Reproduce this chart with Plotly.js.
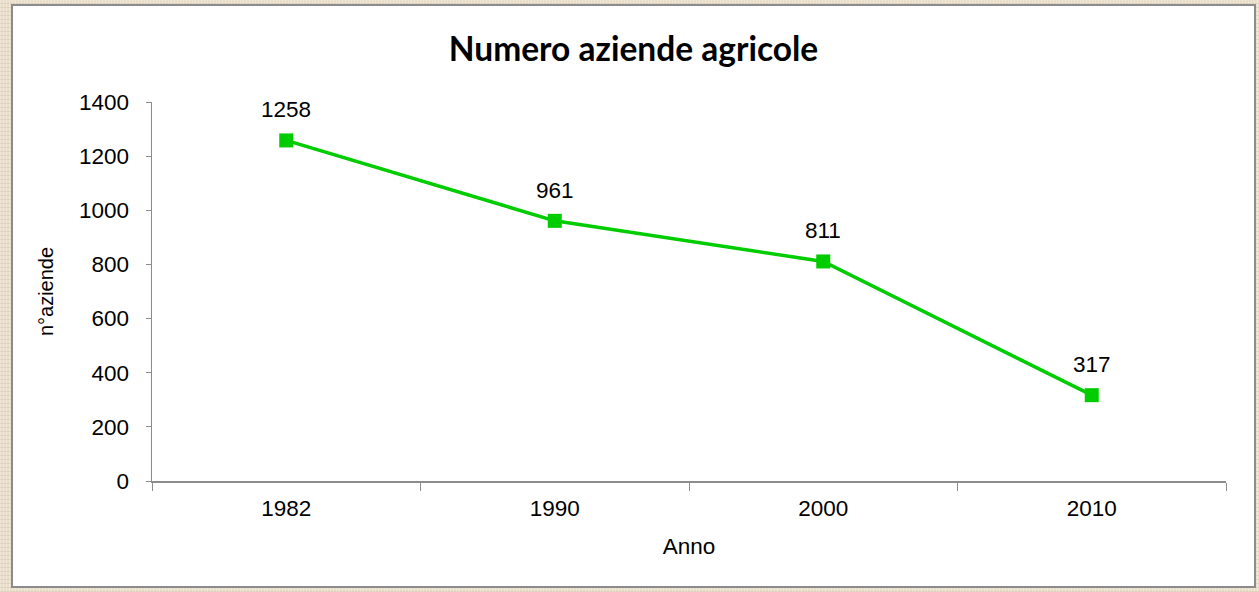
<!DOCTYPE html>
<html>
<head>
<meta charset="utf-8">
<script src="https://cdn.plot.ly/plotly-3.0.1.min.js"></script>
<style>
  html, body { margin: 0; padding: 0; width: 1259px; height: 592px; overflow: hidden; }
  body {
    background-color: #e9dfca;
    background-image:
      repeating-linear-gradient(90deg, rgba(255,255,255,0.25) 0px, rgba(255,255,255,0.25) 1px, rgba(0,0,0,0) 1px, rgba(0,0,0,0) 3px),
      repeating-linear-gradient(0deg, rgba(160,140,110,0.18) 0px, rgba(160,140,110,0.18) 1px, rgba(0,0,0,0) 1px, rgba(0,0,0,0) 4px);
  }
  #frame {
    position: absolute; left: 11px; top: 4px; width: 1241px; height: 580px;
    border: 2px solid #8c8c8c; background: #ffffff;
  }
  #chart { width: 1241px; height: 580px; }
</style>
</head>
<body>
<div id="frame"><div id="chart"></div></div>
<script>
const years = ['1982', '1990', '2000', '2010'];
const aziende = [1258, 961, 811, 317];
const yTicks = [0, 200, 400, 600, 800, 1000, 1200, 1400];

const labelFont = { family: 'Liberation Sans, Arial, sans-serif', size: 22.5, color: '#000000' };

const trace = {
  x: years,
  y: aziende,
  type: 'scatter',
  mode: 'lines+markers',
  line: { color: '#00cc00', width: 3.5 },
  marker: { symbol: 'square', size: 14, color: '#00cc00' },
  cliponaxis: false,
  hoverinfo: 'skip'
};

// category axis: annotations are placed by category index
const dataLabels = aziende.map((v, i) => ({
  x: i, y: v, xref: 'x', yref: 'y',
  text: String(v), showarrow: false,
  yanchor: 'bottom', yshift: 16,
  font: { family: 'Liberation Sans, Arial, sans-serif', size: 22.5, color: '#000000' }
}));

const layout = {
  width: 1241, height: 580,
  paper_bgcolor: '#ffffff', plot_bgcolor: '#ffffff',
  margin: { l: 139, r: 28, t: 96, b: 105 },
  showlegend: false,
  annotations: dataLabels,
  title: {
    text: '<b>Numero aziende agricole</b>',
    font: { family: 'Lato, Open Sans, sans-serif', size: 33.5, color: '#000000' },
    x: 0.5, xanchor: 'center', y: 0.925, yanchor: 'middle'
  },
  xaxis: {
    type: 'category',
    range: [-0.5, 3.5],
    tickson: 'boundaries',
    ticks: 'outside', ticklen: 8, tickcolor: '#8c8c8c', tickwidth: 1,
    showline: true, linecolor: '#8c8c8c', linewidth: 1.5,
    showgrid: false, zeroline: false,
    ticklabelstandoff: 6,
    tickfont: labelFont,
    title: { text: 'Anno', font: labelFont, standoff: 18 }
  },
  yaxis: {
    range: [0, 1400],
    tickvals: yTicks,
    ticktext: yTicks.map(String),
    ticks: 'outside', ticklen: 5, tickcolor: '#8c8c8c', tickwidth: 1,
    showline: true, linecolor: '#8c8c8c', linewidth: 1.5,
    showgrid: false, zeroline: false,
    ticklabelstandoff: 12,
    tickfont: labelFont,
    title: { text: 'n°aziende', font: { family: 'Liberation Sans, Arial, sans-serif', size: 20, color: '#000000' }, standoff: 20 }
  }
};

Plotly.newPlot('chart', [trace], layout, { displayModeBar: false, staticPlot: true });
</script>
</body>
</html>
